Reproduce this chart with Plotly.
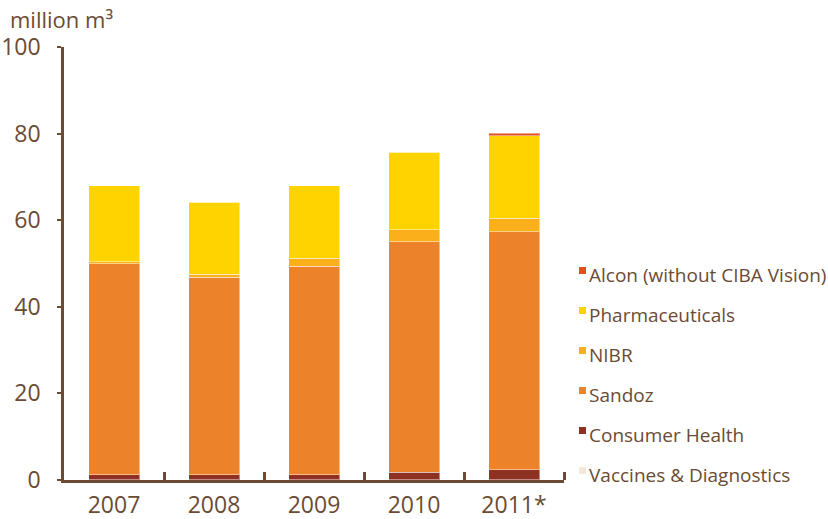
import plotly.graph_objects as go

years = ["2007", "2008", "2009", "2010", "2011*"]

# Water use by division, million m³ (stacked bottom to top)
vaccines_diagnostics = [0.1, 0.1, 0.1, 0.1, 0.1]
consumer_health = [1.1, 1.1, 1.1, 1.7, 2.3]
sandoz = [48.8, 45.6, 48.2, 53.2, 54.9]
nibr = [0.4, 0.7, 1.8, 2.8, 3.1]
pharmaceuticals = [17.5, 16.6, 16.7, 17.9, 19.1]
alcon = [0.0, 0.0, 0.0, 0.0, 0.6]

series_names = ["Vaccines & Diagnostics", "Consumer Health", "Sandoz", "NIBR",
                "Pharmaceuticals", "Alcon (without CIBA Vision)"]
series_values = [vaccines_diagnostics, consumer_health, sandoz, nibr,
                 pharmaceuticals, alcon]
series_colors = ["#F4E9D8", "#8F3122", "#EC8229", "#FBAF1A", "#FFD300", "#E2501B"]

TEXT = "#6B4B33"
FONT = "Open Sans"

W, H = 828, 519
L, R, T, B = 64, 264, 47, 39

# Years placed at integer positions so boundary ticks can sit between them
positions = list(range(len(years)))
boundaries = [p + 0.5 for p in positions]

fig = go.Figure()
for name, vals, col in zip(series_names, series_values, series_colors):
    fig.add_trace(go.Bar(
        x=positions, y=vals, name=name,
        marker=dict(color=col, line=dict(color="rgba(255,255,255,0.45)", width=1)),
        showlegend=False,
    ))

def px_x(px):
    return (px - L) / (W - L - R)

def px_y(py):
    return (H - B - py) / (H - T - B)

# Hand-built legend: small square swatch at cap height, text to its right
annotations = []
shapes = []
top_item_y = 274
for i, (name, col) in enumerate(zip(reversed(series_names), reversed(series_colors))):
    cy = top_item_y + 40 * i
    shapes.append(dict(
        type="rect", xref="paper", yref="paper",
        x0=px_x(579), x1=px_x(586), y0=px_y(cy - 7), y1=px_y(cy),
        fillcolor=col, line=dict(width=0),
    ))
    annotations.append(dict(
        text=name, xref="paper", yref="paper",
        x=px_x(587), y=px_y(cy + 1), xanchor="left", yanchor="middle",
        showarrow=False, font=dict(family=FONT, size=19, color=TEXT),
    ))

annotations.append(dict(
    text="million m³", xref="paper", yref="paper",
    x=px_x(8), y=px_y(19), xanchor="left", yanchor="middle",
    showarrow=False, font=dict(family=FONT, size=22, color=TEXT),
))

fig.update_layout(
    width=W, height=H,
    margin=dict(l=L, r=R, t=T, b=B, pad=0, autoexpand=False),
    barmode="stack",
    bargap=0.49,
    plot_bgcolor="white",
    paper_bgcolor="white",
    font=dict(family=FONT, color=TEXT),
    shapes=shapes,
    annotations=annotations,
    showlegend=False,
)

fig.update_xaxes(
    range=[-0.5, len(years) - 0.5], automargin=False,
    tickvals=positions, ticktext=years,
    showline=True, linecolor=TEXT, linewidth=2.5,
    ticks="", ticklabelstandoff=3,
    minor=dict(tickvals=boundaries, ticks="inside", ticklen=8, tickwidth=2.5,
               tickcolor=TEXT, showgrid=False),
    tickfont=dict(family=FONT, size=23, color=TEXT),
    showgrid=False, zeroline=False, layer="above traces",
)

fig.update_yaxes(
    range=[0, 100], tickvals=[0, 20, 40, 60, 80, 100], automargin=False,
    showline=True, linecolor=TEXT, linewidth=2.5,
    ticks="outside", ticklen=4, tickwidth=2, tickcolor=TEXT,
    ticklabelstandoff=12,
    tickfont=dict(family=FONT, size=23, color=TEXT),
    showgrid=False, zeroline=False,
)

fig.write_html("out.html")
